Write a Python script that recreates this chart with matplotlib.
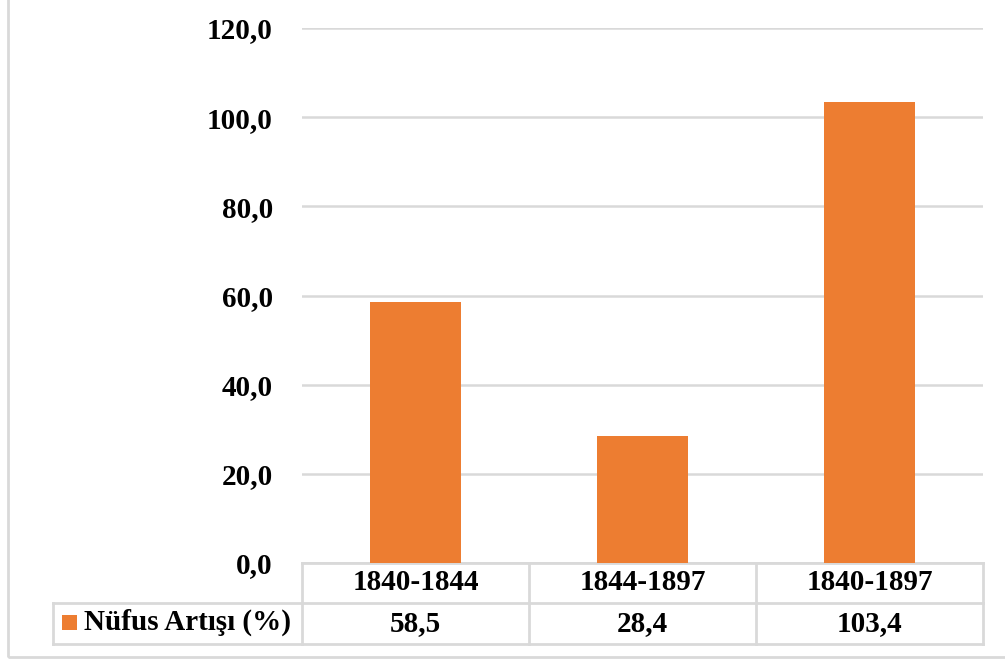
import matplotlib
matplotlib.use("Agg")
import matplotlib.pyplot as plt
import matplotlib.transforms as mtransforms
from matplotlib.patches import Rectangle

# Data
periods = ["1840-1844", "1844-1897", "1840-1897"]
growth = [58.5, 28.4, 103.4]
series_name = "Nüfus Artışı (%)"
y_ticks = [0, 20, 40, 60, 80, 100, 120]

BAR_COLOR = "#ED7D31"
GRID_COLOR = "#D9D9D9"
FONT = "Liberation Serif"
FS = 21

plt.rcParams["font.family"] = [FONT, "DejaVu Serif"]

W, H = 1005, 660
fig = plt.figure(figsize=(W / 100, H / 100), dpi=100)

# Chart-area border (left and bottom edges visible)
fig.patches.append(Rectangle((8 / W, 1 - 657 / H), 1.2, 1.2, transform=fig.transFigure,
                             fill=False, edgecolor=GRID_COLOR, linewidth=2))

ax_left, ax_right = 302 / W, 983 / W
ax_bottom, ax_top = 1 - 563 / H, 1 - 28 / H
ax = fig.add_axes([ax_left, ax_bottom, ax_right - ax_left, ax_top - ax_bottom])

x = list(range(len(periods)))
ax.bar(x, growth, width=0.4, color=BAR_COLOR, zorder=3)
ax.set_xlim(-0.5, len(periods) - 0.5)
ax.set_ylim(0, 120)
ax.set_yticks(y_ticks)
ax.set_yticklabels([f"{v:.1f}".replace(".", ",") for v in y_ticks],
                   fontsize=FS, fontweight="bold", family=FONT)
ax.tick_params(axis="y", length=0, pad=21)
ax.set_xticks([])
for s in ax.spines.values():
    s.set_visible(False)
ax.yaxis.grid(True, color=GRID_COLOR, linewidth=1.8, zorder=0)
ax.set_axisbelow(True)

# Data table below the plot
ax_h_px = 563 - 28
row1 = -40 / ax_h_px
row2 = -81 / ax_h_px
blend = mtransforms.blended_transform_factory(ax.transData, ax.transAxes)
line_kw = dict(color=GRID_COLOR, linewidth=2, clip_on=False, zorder=1)

n = len(periods)
# horizontal lines
ax.plot([-0.5, n - 0.5], [0, 0], transform=blend, **line_kw)
ax.plot([-0.5, n - 0.5], [row1, row1], transform=blend, **line_kw)
ax.plot([-0.5, n - 0.5], [row2, row2], transform=blend, **line_kw)
# vertical lines
for b in [i - 0.5 for i in range(n + 1)]:
    ax.plot([b, b], [0, row2], transform=blend, **line_kw)

# legend cell (left of the table, second row)
leg_left = (53 - 302) / (983 - 302) * n - 0.5
ax.plot([leg_left, -0.5], [row1, row1], transform=blend, **line_kw)
ax.plot([leg_left, -0.5], [row2, row2], transform=blend, **line_kw)
ax.plot([leg_left, leg_left], [row1, row2], transform=blend, **line_kw)

for i, (p, v) in enumerate(zip(periods, growth)):
    ax.text(i, row1 / 2, p, transform=blend, ha="center", va="center",
            fontsize=FS, fontweight="bold", family=FONT, clip_on=False)
    ax.text(i, (row1 + row2) / 2, f"{v:.1f}".replace(".", ","), transform=blend,
            ha="center", va="center", fontsize=FS, fontweight="bold",
            family=FONT, clip_on=False)

# legend key and series name
fig.patches.append(Rectangle((62 / W, 1 - 630 / H), 15 / W, 15 / H,
                             transform=fig.transFigure, facecolor=BAR_COLOR,
                             edgecolor="none"))
fig.text(84 / W, 1 - 622 / H, series_name, ha="left", va="center",
         fontsize=FS, fontweight="bold", family=FONT)

fig.savefig("out.png", dpi=100, facecolor="white")
